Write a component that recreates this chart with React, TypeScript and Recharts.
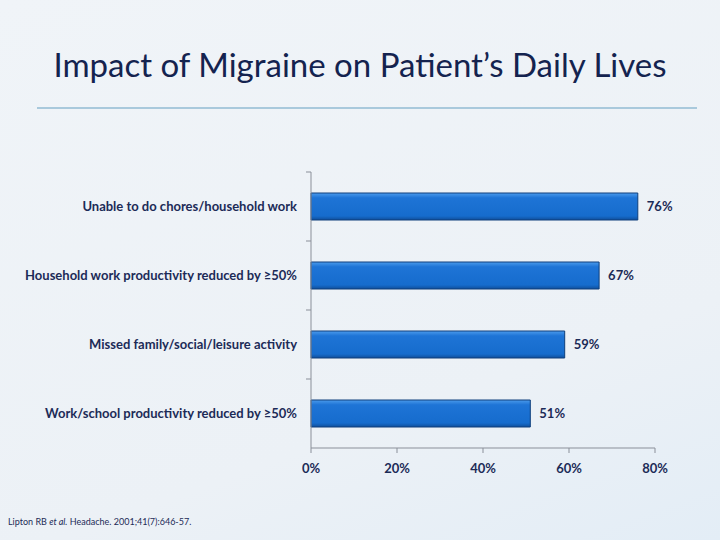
import React from "react";
import { BarChart, Bar, XAxis, YAxis, LabelList } from "recharts";

const categories = [
  "Unable to do chores/household work",
  "Household work productivity reduced by ≥50%",
  "Missed family/social/leisure activity",
  "Work/school productivity reduced by ≥50%",
];
const percentages = [76, 67, 59, 51];
const xTicks = [0, 20, 40, 60, 80];

const data = categories.map((name, i) => ({ name, value: percentages[i] }));

const TOP = 172;
const BOTTOM_AXIS = 448;
const PLOT_H = BOTTOM_AXIS - TOP;
const BAND = PLOT_H / categories.length;
const FONT = "Lato, 'Open Sans', sans-serif";
const NAVY = "#1c2b57";

function CategoryTick(props: any) {
  const { x, y, payload } = props;
  return (
    <g>
      <line x1={x + 1} x2={x + 6} y1={y - BAND / 2} y2={y - BAND / 2} stroke="#8a8f99" />
      <text
        x={x - 8}
        y={y}
        dy={4}
        textAnchor="end"
        fontFamily={FONT}
        fontWeight="bold"
        fontSize={13}
        fill={NAVY}
      >
        {payload.value}
      </text>
    </g>
  );
}

export default function App() {
  return (
    <div
      style={{
        position: "absolute",
        left: 0,
        top: 0,
        width: 720,
        height: 540,
        background: "linear-gradient(160deg, #f0f4f8 0%, #ecf1f6 70%, #e3edf6 100%)",
        overflow: "hidden",
      }}
    >
      <div
        style={{
          position: "absolute",
          top: 44,
          left: 0,
          width: 720,
          textAlign: "center",
          fontFamily: FONT,
          fontSize: 33,
          color: "#14234f",
        }}
      >
        Impact of Migraine on Patient’s Daily Lives
      </div>
      <div
        style={{
          position: "absolute",
          top: 107,
          left: 37,
          width: 660,
          height: 2,
          background: "#a9c9dc",
        }}
      />
      <BarChart
        width={720}
        height={540}
        data={data}
        layout="vertical"
        margin={{ top: TOP, right: 65, bottom: 540 - BOTTOM_AXIS - 32, left: 0 }}
        barCategoryGap="30%"
      >
        <defs>
          <linearGradient id="barFill" x1="0" y1="0" x2="0" y2="1">
            <stop offset="0%" stopColor="#4b9bec" />
            <stop offset="18%" stopColor="#1e74d6" />
            <stop offset="85%" stopColor="#166ccd" />
            <stop offset="100%" stopColor="#0f4f9c" />
          </linearGradient>
        </defs>
        <XAxis
          type="number"
          domain={[0, 80]}
          ticks={xTicks}
          tickFormatter={(v) => `${v}%`}
          height={32}
          tickSize={5}
          tickMargin={11}
          stroke="#8a8f99"
          tick={{ fontFamily: FONT, fontWeight: "bold", fontSize: 13, fill: NAVY }}
        />
        <YAxis
          type="category"
          dataKey="name"
          width={311}
          tickLine={false}
          tickMargin={0}
          stroke="#8a8f99"
          tick={<CategoryTick />}
          interval={0}
        />
        <Bar
          dataKey="value"
          fill="url(#barFill)"
          stroke="#0e3f7c"
          strokeWidth={1}
          barSize={27}
          isAnimationActive={false}
        >
          <LabelList
            dataKey="value"
            position="right"
            offset={9}
            formatter={(v: any) => `${v}%`}
            style={{ fontFamily: FONT, fontWeight: "bold", fontSize: 13, fill: NAVY }}
          />
        </Bar>
      </BarChart>
      <div
        style={{
          position: "absolute",
          top: 516,
          left: 8,
          fontFamily: FONT,
          fontSize: 9,
          color: "#1c2b57",
        }}
      >
        Lipton RB <i>et al.</i> Headache. 2001;41(7):646-57.
      </div>
    </div>
  );
}
